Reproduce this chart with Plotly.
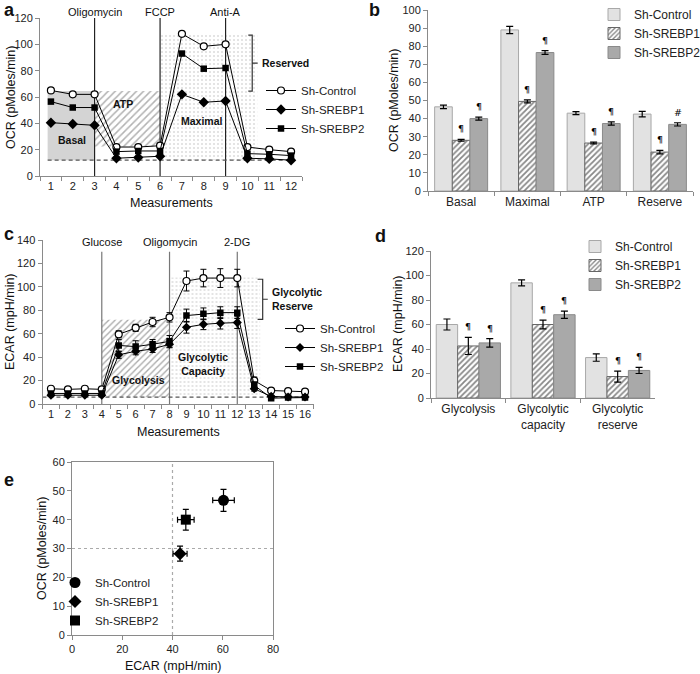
import plotly.graph_objects as go

W, H = 700, 674
FONT = "Liberation Sans, Arial, sans-serif"
AX = "#8a8a8a"


def fx(p):
    return p / W


def fy(p):
    return 1 - p / H


# ---------------- data ----------------
# Panel a: OCR time course
meas_a = list(range(1, 13))
ocr_control = [65, 62, 62, 22, 22, 23, 108, 98.5, 100, 22, 20, 18.5]
ocr_srebp1 = [40.5, 39.5, 38.5, 13.5, 14, 15, 62, 56, 57, 13.5, 13, 12]
ocr_srebp2 = [56.5, 52, 52, 18.5, 19, 19, 93, 81.5, 82, 17, 16.5, 15.5]
ocr_injections = [3, 6, 9]
ocr_injection_labels = ["Oligomycin", "FCCP", "Anti-A"]
ocr_baseline = 12
ocr_basal_box = [0.85, 3, 12, 64.5]       # x0, x1, y0, y1
ocr_atp_box = [3, 6, 22.5, 64.5]
ocr_max_box = [6, 10.45, 12, 108]
ocr_reserve_bracket = [10.22, 64.5, 107]   # x, y0, y1

# Panel b: OCR bars
b_categories = ["Basal", "Maximal", "ATP", "Reserve"]
b_control = [46.5, 89, 43, 42.5]
b_control_err = [1, 2, 0.8, 1.5]
b_srebp1 = [28, 49.5, 26.5, 21.5]
b_srebp1_err = [0.5, 0.8, 0.5, 1]
b_srebp2 = [40, 76.5, 37.3, 36.8]
b_srebp2_err = [0.8, 1, 0.9, 0.9]
b_sig1 = ["¶", "¶", "¶", "¶"]
b_sig2 = ["¶", "¶", "¶", "#"]

# Panel c: ECAR time course
meas_c = list(range(1, 17))
ecar_control = [13, 12.5, 13, 12.5, 59.5, 65, 70, 74, 105, 107.5, 107.5, 107.5, 20, 11.5, 11, 10.5]
ecar_control_err = [0.8, 0.8, 0.8, 0.8, 3, 3, 4, 4, 8.5, 7.5, 8, 7.5, 3, 1, 1, 1]
ecar_srebp1 = [7.5, 7.5, 7.5, 7.5, 42, 45, 47, 51, 65.5, 68, 69, 69.5, 13, 6.5, 6, 6]
ecar_srebp1_err = [0.8, 0.8, 0.8, 0.8, 3, 3, 3, 3, 5, 4.5, 5, 5, 2, 1, 1, 1]
ecar_srebp2 = [9, 9, 9, 9, 50, 49, 51, 53.5, 75.5, 77, 78, 78, 16, 5, 5.5, 5.5]
ecar_srebp2_err = [0.8, 0.8, 0.8, 0.8, 5, 5, 4, 5, 5.5, 5, 5, 5, 3, 1, 1, 1]
ecar_injections = [4, 8, 12]
ecar_injection_labels = ["Glucose", "Oligomycin", "2-DG"]
ecar_baseline = 5.8
ecar_glyco_box = [4, 8, 5.8, 72]
ecar_cap_box = [8, 13.35, 5.8, 108]
ecar_reserve_bracket = [13.5, 72.3, 106.5]

# Panel d: ECAR bars
d_categories = ["Glycolysis", "Glycolytic<br>capacity", "Glycolytic<br>reserve"]
d_control = [60, 94, 33]
d_control_err = [4.5, 2.5, 3]
d_srebp1 = [42.5, 60, 17.5]
d_srebp1_err = [7, 3.5, 4.5]
d_srebp2 = [45, 68, 22.5]
d_srebp2_err = [3.5, 3, 2.5]
d_sig1 = ["¶", "¶", "¶"]
d_sig2 = ["¶", "¶", "¶"]

# Panel e: energy map
e_groups = ["Sh-Control", "Sh-SREBP1", "Sh-SREBP2"]
e_ecar = [60.3, 43, 45.3]
e_ecar_err = [4.3, 2.8, 3.3]
e_ocr = [46.7, 28.2, 40]
e_ocr_err = [3.8, 2.6, 3.6]
e_ref_ecar = 40
e_ref_ocr = 30

# ---------------- figure ----------------
fig = go.Figure()


def region(box, xa, ya, **kw):
    x0, x1, y0, y1 = box
    fig.add_trace(go.Scatter(x=[x0, x1, x1, x0, x0], y=[y0, y0, y1, y1, y0], fill="toself",
                             mode="lines", line=dict(width=0), showlegend=False,
                             hoverinfo="skip", xaxis=xa, yaxis=ya, **kw))


def vlines(xs, top, xa, ya, color):
    X, Y = [], []
    for v in xs:
        X += [v, v, None]
        Y += [0, top, None]
    fig.add_trace(go.Scatter(x=X, y=Y, mode="lines", line=dict(color=color, width=1.2),
                             showlegend=False, hoverinfo="skip", xaxis=xa, yaxis=ya))


def baseline(y, x0, x1, xa, ya):
    fig.add_trace(go.Scatter(x=[x0, x1], y=[y, y], mode="lines",
                             line=dict(color="#555", width=1.2, dash="4px,3px"),
                             showlegend=False, hoverinfo="skip", xaxis=xa, yaxis=ya))


# ---- panel a ----
region(ocr_basal_box, "x", "y", fillcolor="#d4d4d4")
region(ocr_atp_box, "x", "y", fillcolor="white",
       fillpattern=dict(shape="/", fgcolor="#666", bgcolor="white", size=5, solidity=0.3))
region(ocr_max_box, "x", "y", fillcolor="white",
       fillpattern=dict(shape=".", fgcolor="#b8b8b8", bgcolor="white", size=4, solidity=0.2))
vlines(ocr_injections, 120, "x", "y", "#222")
baseline(ocr_baseline, ocr_basal_box[0], meas_a[-1], "x", "y")

line_series_a = [
    ("Sh-Control", ocr_control, dict(symbol="circle", size=7, color="white", line=dict(color="black", width=1.2))),
    ("Sh-SREBP1", ocr_srebp1, dict(symbol="diamond", size=8, color="black")),
    ("Sh-SREBP2", ocr_srebp2, dict(symbol="square", size=6.5, color="black")),
]
for name, vals, mk in line_series_a:
    fig.add_trace(go.Scatter(x=meas_a, y=vals, name=name, mode="lines+markers",
                             line=dict(color="black", width=1), marker=mk,
                             xaxis="x", yaxis="y", legend="legend"))

# ---- panels b and d ----
bar_styles = [
    dict(color="#e2e2e2", line=dict(color="#a8a8a8", width=1)),
    dict(color="white", line=dict(color="#666", width=1),
         pattern=dict(shape="/", fgcolor="#111", bgcolor="white", size=4, solidity=0.45)),
    dict(color="#a9a9a9", line=dict(color="#8a8a8a", width=1)),
]
names = ["Sh-Control", "Sh-SREBP1", "Sh-SREBP2"]


def bars(cats, series, errs, w, xa, ya, leg):
    for i, (vals, err) in enumerate(zip(series, errs)):
        fig.add_trace(go.Bar(x=cats, y=vals, name=names[i], width=w, offset=-1.5 * w + i * w,
                             marker=bar_styles[i],
                             error_y=dict(type="data", array=err, color="black", thickness=1.2, width=3.5),
                             xaxis=xa, yaxis=ya, legend=leg))


wb = 0.8 / 3
bars(b_categories, [b_control, b_srebp1, b_srebp2], [b_control_err, b_srebp1_err, b_srebp2_err],
     wb, "x2", "y2", "legend2")

wd = 0.86 / 3
bars(d_categories, [d_control, d_srebp1, d_srebp2], [d_control_err, d_srebp1_err, d_srebp2_err],
     wd, "x4", "y4", "legend4")

# ---- panel c ----
region(ecar_glyco_box, "x3", "y3", fillcolor="white",
       fillpattern=dict(shape="/", fgcolor="#555", bgcolor="white", size=4.5, solidity=0.3))
region(ecar_cap_box, "x3", "y3", fillcolor="white",
       fillpattern=dict(shape=".", fgcolor="#b8b8b8", bgcolor="white", size=4, solidity=0.2))
vlines(ecar_injections, 130, "x3", "y3", "#777")
baseline(ecar_baseline, 0.5, meas_c[-1], "x3", "y3")

line_series_c = [
    ("Sh-Control", ecar_control, ecar_control_err,
     dict(symbol="circle", size=7, color="white", line=dict(color="black", width=1.2))),
    ("Sh-SREBP1", ecar_srebp1, ecar_srebp1_err, dict(symbol="diamond", size=7, color="black")),
    ("Sh-SREBP2", ecar_srebp2, ecar_srebp2_err, dict(symbol="square", size=6.5, color="black")),
]
for name, vals, err, mk in line_series_c:
    fig.add_trace(go.Scatter(x=meas_c, y=vals, name=name, mode="lines+markers",
                             line=dict(color="black", width=1), marker=mk,
                             error_y=dict(type="data", array=err, color="black", thickness=1, width=3),
                             xaxis="x3", yaxis="y3", legend="legend3"))

# ---- panel e ----
e_symbols = [("circle", 11), ("diamond", 10), ("square", 10)]
for i, g in enumerate(e_groups):
    fig.add_trace(go.Scatter(x=[e_ecar[i]], y=[e_ocr[i]], name=g, mode="markers",
                             marker=dict(symbol=e_symbols[i][0], size=e_symbols[i][1], color="black"),
                             error_x=dict(type="data", array=[e_ecar_err[i]], color="black", thickness=1.2, width=3),
                             error_y=dict(type="data", array=[e_ocr_err[i]], color="black", thickness=1.2, width=3),
                             xaxis="x5", yaxis="y5", legend="legend5"))

# ---------------- axes ----------------
tickfont = dict(family=FONT, size=11, color="#222")
common = dict(showline=True, linecolor=AX, linewidth=1, showgrid=False, zeroline=False,
              ticks="outside", ticklen=4, tickcolor=AX, tickfont=tickfont, automargin=False)

half_a = [i + 0.5 for i in range(0, 13)]
half_c = [i + 0.5 for i in range(0, 17)]

fig.update_layout(
    xaxis=dict(common, domain=[fx(40), fx(302)], range=[0.5, 12.5], tickvals=meas_a, ticks="",
               minor=dict(tickvals=half_a, ticks="outside", ticklen=4, tickcolor=AX), anchor="y"),
    yaxis=dict(common, domain=[fy(176), fy(18)], range=[0, 120], dtick=20, anchor="x"),
    xaxis2=dict(common, domain=[fx(428), fx(693)], type="category", tickson="boundaries",
                tickfont=dict(family=FONT, size=12, color="#222"), anchor="y2"),
    yaxis2=dict(common, domain=[fy(191), fy(10)], range=[0, 100], dtick=10, anchor="x2"),
    xaxis3=dict(common, domain=[fx(42.5), fx(313.5)], range=[0.5, 16.5], tickvals=meas_c, ticks="",
                minor=dict(tickvals=half_c, ticks="outside", ticklen=4, tickcolor=AX), anchor="y3"),
    yaxis3=dict(common, domain=[fy(404), fy(240)], range=[0, 140], dtick=20, anchor="x3"),
    xaxis4=dict(common, domain=[fx(431), fx(655)], type="category", tickson="boundaries",
                tickfont=dict(family=FONT, size=12, color="#222"), anchor="y4"),
    yaxis4=dict(common, domain=[fy(398), fy(251)], range=[0, 120], dtick=20, anchor="x4"),
    xaxis5=dict(common, domain=[fx(72), fx(273)], range=[0, 80], dtick=20, mirror=True, anchor="y5"),
    yaxis5=dict(common, domain=[fy(635), fy(462)], range=[0, 60], dtick=10, mirror=True, anchor="x5"),
)


# ---------------- legends ----------------
def leg(xp, yp, size=11.5):
    return dict(x=fx(xp), y=fy(yp), xanchor="left", yanchor="top", bgcolor="rgba(0,0,0,0)",
                font=dict(family=FONT, size=size, color="#222"), itemwidth=30, tracegroupgap=0,
                traceorder="normal")


fig.update_layout(
    legend=leg(261, 76),
    legend2=leg(594, 0, 12),
    legend3=leg(280, 314),
    legend4=leg(575, 232, 12),
    legend5=leg(55, 568),
)

# ---------------- annotations ----------------
ann = []


def txt(text, x, y, xref, yref, size=11, bold=False, **kw):
    t = f"<b>{text}</b>" if bold else text
    d = dict(text=t, x=x, y=y, xref=xref, yref=yref, showarrow=False, xanchor="center",
             yanchor="middle", font=dict(family=FONT, size=size, color="#111"))
    d.update(kw)
    ann.append(d)


# panel letters
for letter, xp, yp in [("a", 2, 10), ("b", 367, 10), ("c", 2, 234), ("d", 373, 236), ("e", 2, 480)]:
    txt(letter, fx(xp), fy(yp), "paper", "paper", size=18, bold=True, xanchor="left")

# axis titles
txt("OCR (pMoles/min)", fx(11), fy(97), "paper", "paper", size=12.5, textangle=-90)
txt("Measurements", fx(171), fy(203), "paper", "paper", size=12.5)
txt("OCR (pMoles/min)", fx(394), fy(100), "paper", "paper", size=12.5, textangle=-90)
txt("ECAR (mpH/min)", fx(10), fy(322), "paper", "paper", size=12.5, textangle=-90)
txt("Measurements", fx(178), fy(432), "paper", "paper", size=12.5)
txt("ECAR (mpH/min)", fx(398), fy(324), "paper", "paper", size=12.5, textangle=-90)
txt("OCR (pMoles/min)", fx(42), fy(548), "paper", "paper", size=12.5, textangle=-90)
txt("ECAR (mpH/min)", fx(173), fy(666), "paper", "paper", size=12.5)

# drug labels (just above / at the top of the plot areas)
for v, lab in zip(ocr_injections, ocr_injection_labels):
    txt(lab, v, fy(12), "x", "paper", size=11)
for v, lab in zip(ecar_injections, ecar_injection_labels):
    txt(lab, v, fy(242), "x3", "paper", size=11)

# region labels panel a
txt("Basal", 1.97, 27.5, "x", "y", size=10.5, bold=True)
txt("ATP", 4.3, 54.5, "x", "y", size=10.5, bold=True)
txt("Maximal", 7.9, 42, "x", "y", size=10.5, bold=True)
txt("Reserved", ocr_reserve_bracket[0] + 0.35, (ocr_reserve_bracket[1] + ocr_reserve_bracket[2]) / 2,
    "x", "y", size=10.5, bold=True, xanchor="left")
# region labels panel c
txt("Glycolysis", 6.15, 20.5, "x3", "y3", size=10.5, bold=True)
txt("Glycolytic<br>Capacity", 9.95, 34, "x3", "y3", size=10.5, bold=True)
txt("Glycolytic<br>Reserve", ecar_reserve_bracket[0] + 0.45,
    (ecar_reserve_bracket[1] + ecar_reserve_bracket[2]) / 2, "x3", "y3", size=10.5, bold=True,
    xanchor="left", align="left")

# significance marks
SIG_FONT = "DejaVu Sans, Liberation Sans, sans-serif"
for j in range(len(b_categories)):
    for xv, top, s in [(j, b_srebp1[j] + b_srebp1_err[j], b_sig1[j]),
                       (j + wb, b_srebp2[j] + b_srebp2_err[j], b_sig2[j])]:
        ann.append(dict(text=s, x=xv, y=top, xref="x2", yref="y2", showarrow=False,
                        xanchor="center", yanchor="bottom", yshift=3,
                        font=dict(family=SIG_FONT, size=9.5, color="#000")))
for j in range(len(d_categories)):
    for xv, top, s in [(j, d_srebp1[j] + d_srebp1_err[j], d_sig1[j]),
                       (j + wd, d_srebp2[j] + d_srebp2_err[j], d_sig2[j])]:
        ann.append(dict(text=s, x=xv, y=top, xref="x4", yref="y4", showarrow=False,
                        xanchor="center", yanchor="bottom", yshift=3,
                        font=dict(family=SIG_FONT, size=9.5, color="#000")))

# ---------------- shapes (brackets, reference lines) ----------------
shapes = []


def bracket(bx, y0, y1, xa, ya, serif, tick):
    ym = (y0 + y1) / 2
    path = (f"M {bx - serif},{y1} L {bx},{y1} L {bx},{y0} L {bx - serif},{y0} "
            f"M {bx},{ym} L {bx + tick},{ym}")
    shapes.append(dict(type="path", path=path, xref=xa, yref=ya, line=dict(color="#333", width=1.2)))


bracket(ocr_reserve_bracket[0], ocr_reserve_bracket[1], ocr_reserve_bracket[2], "x", "y", 0.18, 0.25)
bracket(ecar_reserve_bracket[0], ecar_reserve_bracket[1], ecar_reserve_bracket[2], "x3", "y3", 0.3, 0.3)

shapes.append(dict(type="line", xref="x5", yref="y5", x0=e_ref_ecar, x1=e_ref_ecar, y0=0, y1=60,
                   line=dict(color="#aaa", width=1.2, dash="dot"), layer="below"))
shapes.append(dict(type="line", xref="x5", yref="y5", x0=0, x1=80, y0=e_ref_ocr, y1=e_ref_ocr,
                   line=dict(color="#aaa", width=1.2, dash="dot"), layer="below"))

fig.update_layout(
    width=W, height=H, margin=dict(l=0, r=0, t=0, b=0, autoexpand=False),
    paper_bgcolor="white", plot_bgcolor="rgba(0,0,0,0)",
    font=dict(family=FONT, size=11, color="#222"),
    annotations=ann, shapes=shapes, barmode="overlay",
)

fig.write_html("out.html", config={"displayModeBar": False},
               post_script="document.body.style.margin='0';")
